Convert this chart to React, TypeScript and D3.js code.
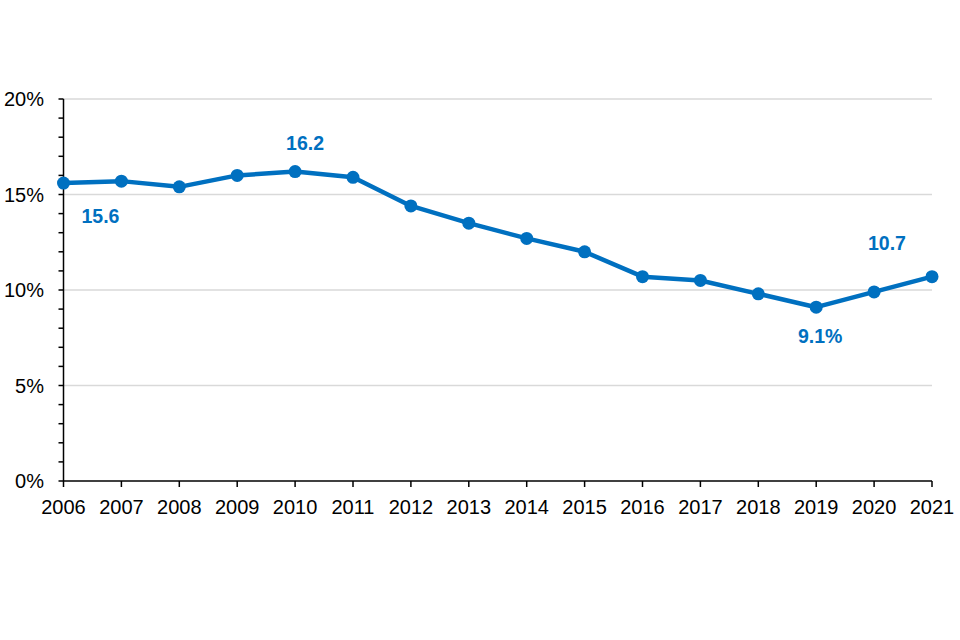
import React, { useEffect, useRef } from 'react';
import * as d3 from 'd3';

const years = [2006, 2007, 2008, 2009, 2010, 2011, 2012, 2013, 2014, 2015, 2016, 2017, 2018, 2019, 2020, 2021];
const rates = [15.6, 15.7, 15.4, 16.0, 16.2, 15.9, 14.4, 13.5, 12.7, 12.0, 10.7, 10.5, 9.8, 9.1, 9.9, 10.7];
const yTicks = [0, 5, 10, 15, 20];
const minorTicks = d3.range(0, 21, 1);

// annotated points: year, text, offset from the point
const labels: { year: number; text: string; dx: number; dy: number }[] = [
  { year: 2006, text: '15.6', dx: 37, dy: 33 },
  { year: 2010, text: '16.2', dx: 10, dy: -29 },
  { year: 2019, text: '9.1%', dx: 4, dy: 29 },
  { year: 2021, text: '10.7', dx: -45, dy: -34 },
];

const BLUE = '#0070c0';

const App: React.FC = () => {
  const svgRef = useRef<SVGSVGElement>(null);

  useEffect(() => {
    if (!svgRef.current) return;
    const svg = d3.select(svgRef.current);
    svg.selectAll('*').remove();

    const x = d3.scaleLinear().domain([2006, 2021]).range([63.5, 932]);
    const y = d3.scaleLinear().domain([0, 20]).range([481, 99]);
    const font = 'Liberation Sans, Arial, sans-serif';

    // gridlines
    svg.append('g')
      .selectAll('line')
      .data(yTicks.filter(t => t > 0))
      .join('line')
      .attr('x1', x(2006)).attr('x2', x(2021))
      .attr('y1', d => y(d)).attr('y2', d => y(d))
      .attr('stroke', '#d9d9d9').attr('stroke-width', 1.5);

    // y axis
    svg.append('line')
      .attr('x1', x(2006)).attr('x2', x(2006))
      .attr('y1', y(20)).attr('y2', y(0))
      .attr('stroke', '#000').attr('stroke-width', 1.5);
    svg.append('g')
      .selectAll('line')
      .data(minorTicks)
      .join('line')
      .attr('x1', x(2006) - 5).attr('x2', x(2006))
      .attr('y1', d => y(d)).attr('y2', d => y(d))
      .attr('stroke', '#000').attr('stroke-width', 1.5);
    svg.append('g')
      .selectAll('text')
      .data(yTicks)
      .join('text')
      .attr('x', 44).attr('y', d => y(d) + 7)
      .attr('text-anchor', 'end')
      .attr('font-family', font).attr('font-size', 20)
      .text(d => `${d}%`);

    // x axis
    svg.append('line')
      .attr('x1', x(2006)).attr('x2', x(2021))
      .attr('y1', y(0)).attr('y2', y(0))
      .attr('stroke', '#000').attr('stroke-width', 1.5);
    svg.append('g')
      .selectAll('line')
      .data(years)
      .join('line')
      .attr('x1', d => x(d)).attr('x2', d => x(d))
      .attr('y1', y(0)).attr('y2', y(0) + 6)
      .attr('stroke', '#000').attr('stroke-width', 1.5);
    svg.append('g')
      .selectAll('text')
      .data(years)
      .join('text')
      .attr('x', d => x(d)).attr('y', 514)
      .attr('text-anchor', 'middle')
      .attr('font-family', font).attr('font-size', 20)
      .text(d => d);

    // series
    const pts = years.map((yr, i) => ({ yr, v: rates[i] }));
    svg.append('path')
      .datum(pts)
      .attr('d', d3.line<{ yr: number; v: number }>().x(d => x(d.yr)).y(d => y(d.v)))
      .attr('fill', 'none')
      .attr('stroke', BLUE).attr('stroke-width', 4.5)
      .attr('stroke-linejoin', 'round');
    svg.append('g')
      .selectAll('circle')
      .data(pts)
      .join('circle')
      .attr('cx', d => x(d.yr)).attr('cy', d => y(d.v))
      .attr('r', 6.5)
      .attr('fill', BLUE);

    // data labels
    svg.append('g')
      .selectAll('text')
      .data(labels)
      .join('text')
      .attr('x', d => x(d.year) + d.dx)
      .attr('y', d => y(rates[years.indexOf(d.year)]) + d.dy + 7)
      .attr('text-anchor', 'middle')
      .attr('font-family', font).attr('font-size', 19.5).attr('font-weight', 'bold')
      .attr('fill', BLUE)
      .text(d => d.text);
  }, []);

  return (
    <svg ref={svgRef} width={960} height={640}
      style={{ position: 'absolute', left: 0, top: 0, background: '#fff' }} />
  );
};

export default App;
